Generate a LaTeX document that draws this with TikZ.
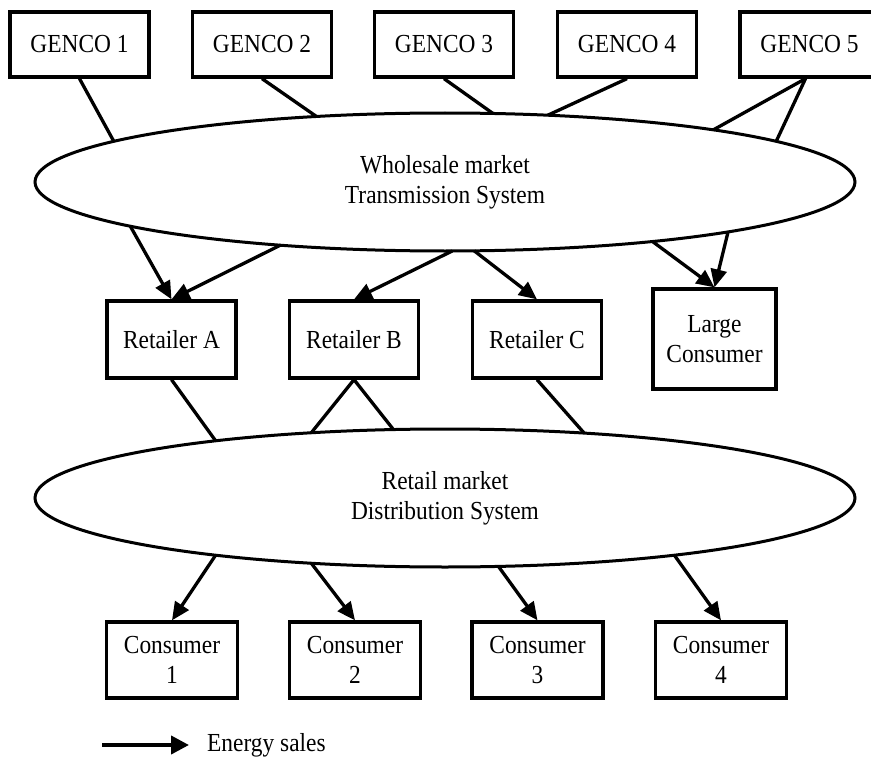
\documentclass[tikz,border=0pt]{standalone}
\usepackage{fontspec}
\setmainfont{Liberation Serif}[FakeStretch=0.9]
\usetikzlibrary{shapes.geometric,arrows.meta}
\begin{document}
\begin{tikzpicture}[x=1pt,y=-1pt,
  txt/.style={font=\fontsize{26}{30}\selectfont},
  box/.style={txt,draw,line width=3.3pt,inner sep=0pt,align=center},
  genco/.style={box,minimum width=139pt,minimum height=65pt},
  retailer/.style={box,minimum width=129pt,minimum height=77pt},
  consumer/.style={box,minimum width=131pt,minimum height=76pt},
  market/.style={txt,draw,ellipse,line width=3pt,inner sep=0pt,outer sep=0pt,
    minimum width=820pt,minimum height=138pt,align=center},
  link/.style={line width=3.3pt},
  sale/.style={line width=3.3pt,-{Triangle[length=18pt,width=16pt]}}]
\useasboundingbox (0,0) rectangle (871,760);

% generating companies
\node[genco] (g1) at (79.5,44.5) {GENCO 1};
\node[genco] (g2) at (262,44.5) {GENCO 2};
\node[genco] (g3) at (444,44.5) {GENCO 3};
\node[genco] (g4) at (627,44.5) {GENCO 4};
\node[genco] (g5) at (809.5,44.5) {GENCO 5};

% markets
\node[market] (w) at (445,182) {Wholesale market\\Transmission System};
\node[market] (r) at (445,498) {Retail market\\Distribution System};

% retailers and large consumer
\node[retailer] (ra) at (171.5,339.5) {Retailer A};
\node[retailer] (rb) at (354,339.5) {Retailer B};
\node[retailer] (rc) at (537,339.5) {Retailer C};
\node[box,minimum width=123pt,minimum height=100pt] (lc) at (714.5,339) {Large\\Consumer};

% consumers
\node[consumer] (c1) at (172,660) {Consumer\\1};
\node[consumer] (c2) at (355,660) {Consumer\\2};
\node[consumer] (c3) at (537.5,660) {Consumer\\3};
\node[consumer] (c4) at (721,660) {Consumer\\4};

% GENCOs feed the wholesale market
\draw[link] (g1.south) -- (w.173.4);
\draw[link] (g2.south) -- (w.153.8);
\draw[link] (g3.south) -- (w.55);
\draw[link] (g4.south) -- (w.33.2);
\draw[link] ([xshift=-4pt]g5.south) -- (w.11.8);
\draw[link] ([xshift=-4pt]g5.south) -- (w.7.1);

% wholesale energy sales
\draw[sale] (w.188.7) -- (ra.north);
\draw[sale] (w.201.2) -- (ra.north);
\draw[sale] (w.276.6) -- (rb.north);
\draw[sale] (w.293.6) -- (rc.north);
\draw[sale] (w.344.2) -- (lc.north);
\draw[sale] (w.350.7) -- (lc.north);

% retailers join the retail market
\draw[link] (ra.south) -- (r.166);
\draw[link] (rb.south) -- (r.154.2);
\draw[link] (rb.south) -- (r.127.7);
\draw[link] (rc.south) -- (r.25.8);

% retail energy sales
\draw[sale] (r.194.3) -- (c1.north);
\draw[sale] (r.206) -- (c2.north);
\draw[sale] (r.308.7) -- (c3.north);
\draw[sale] (r.346.3) -- (c4.north);

% legend
\coordinate (la) at (102,745);
\coordinate (lb) at (189,745);
\draw[sale,line width=4pt,-{Triangle[length=18pt,width=18pt]}] (la) -- (lb);
\node[txt,anchor=west,inner sep=0pt] (lt) at (207,745) {Energy sales};
\end{tikzpicture}
\end{document}
